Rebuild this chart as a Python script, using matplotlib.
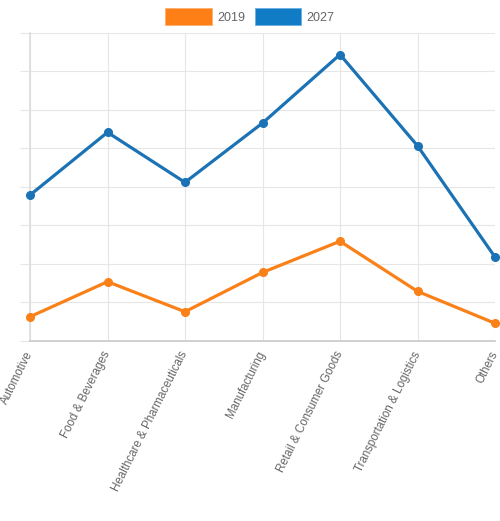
import matplotlib
matplotlib.use('Agg')
import matplotlib.pyplot as plt
from matplotlib.patches import Patch

plt.rcParams['font.family'] = ['Liberation Sans', 'DejaVu Sans']

categories = ['Automotive', 'Food & Beverages', 'Healthcare & Pharmaceuticals',
              'Manufacturing', 'Retail & Consumer Goods',
              'Transportation & Logistics', 'Others']
values_2019 = [0.63, 1.54, 0.76, 1.78, 2.59, 1.29, 0.46]
values_2027 = [3.79, 5.42, 4.12, 5.66, 7.44, 5.07, 2.18]
y_ticks = [0, 1, 2, 3, 4, 5, 6, 7, 8]

orange = '#fa8018'
blue = '#1b72b4'
grid = '#e6e6e6'
text_col = '#666666'

fig = plt.figure(figsize=(5, 5.21), dpi=100)
ax = fig.add_axes([0.06, 0.3455, 0.93, 0.5912])

x = list(range(len(categories)))
ax.plot(x, values_2019, color=orange, lw=2.3, marker='o', ms=5.5, zorder=3, clip_on=False)
ax.plot(x, values_2027, color=blue, lw=2.3, marker='o', ms=5.5, zorder=3, clip_on=False)

ax.set_xlim(0, len(categories) - 1)
ax.set_ylim(y_ticks[0], y_ticks[-1])
ax.set_yticks(y_ticks)
ax.set_yticklabels([])
ax.set_xticks(x)
ax.set_xticklabels(categories, rotation=63.5, ha='right', va='center',
                   rotation_mode='anchor', fontsize=8.3, color=text_col)
ax.tick_params(axis='y', length=7.5, width=0.8, color=grid)
ax.tick_params(axis='x', length=0, pad=8)
ax.grid(True, color=grid, lw=0.8)
ax.set_axisbelow(True)
for side in ['top', 'right']:
    ax.spines[side].set_visible(False)
ax.spines['left'].set_color('#dcdcdc')
ax.spines['left'].set_linewidth(1.2)
ax.spines['bottom'].set_color('#c8c8c8')
ax.spines['bottom'].set_linewidth(1.2)

handles = [Patch(facecolor='#fd7f16', edgecolor='#fdb070', lw=0.6, label='2019'),
           Patch(facecolor='#0f7cc5', edgecolor='#6aaee0', lw=0.6, label='2027')]
fig.legend(handles=handles, loc='center', bbox_to_anchor=(0.5, 1 - 16.5 / 521),
           ncol=2, frameon=False, fontsize=9, labelcolor=text_col,
           handlelength=3.7, handleheight=1.6, handletextpad=0.45,
           columnspacing=0.75, borderpad=0)

fig.savefig('out.png', dpi=100)
